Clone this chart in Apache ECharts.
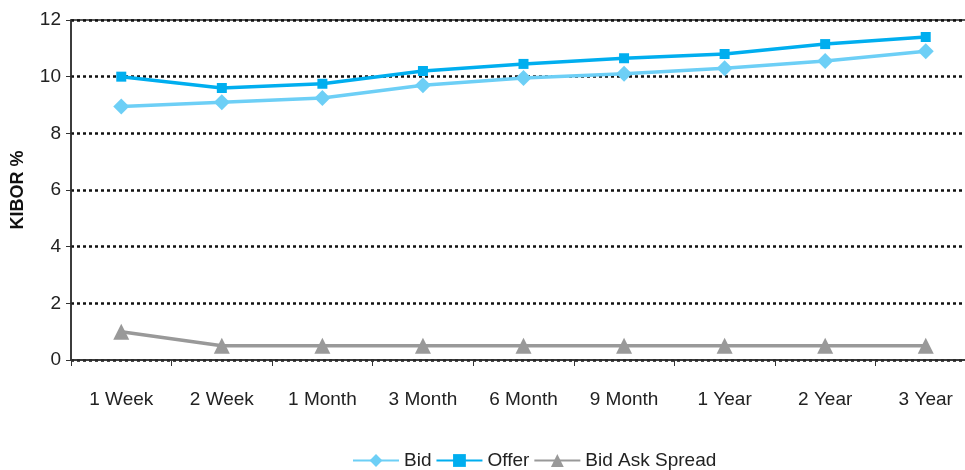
<!DOCTYPE html>
<html>
<head>
<meta charset="utf-8">
<script src="https://cdn.jsdelivr.net/npm/echarts@6/dist/echarts.min.js"></script>
<style>
  html, body { margin: 0; padding: 0; background: #fff; }
  #chart { width: 965px; height: 470px; }
</style>
</head>
<body>
<div id="chart"></div>
<script>
const tenors = ['1 Week', '2 Week', '1 Month', '3 Month', '6 Month', '9 Month', '1 Year', '2 Year', '3 Year'];
const bid = [8.95, 9.1, 9.25, 9.7, 9.95, 10.1, 10.3, 10.55, 10.9];
const offer = [10.0, 9.6, 9.75, 10.2, 10.45, 10.65, 10.8, 11.15, 11.4];
const spread = [1.0, 0.5, 0.5, 0.5, 0.5, 0.5, 0.5, 0.5, 0.5];

const font = '"Liberation Sans", Arial, sans-serif';

const chart = echarts.init(document.getElementById('chart'), null, { renderer: 'canvas' });

function line(name, data, color, symbol, size) {
  return {
    name: name,
    type: 'line',
    data: data,
    symbol: symbol,
    symbolSize: size,
    lineStyle: { color: color, width: 3.5 },
    itemStyle: { color: color },
    animation: false
  };
}

chart.setOption({
  animation: false,
  textStyle: { fontFamily: font },
  grid: {
    left: 71, top: 20, width: 905, height: 340,
    outerBoundsMode: 'none',
    containLabel: false,
    show: true, borderColor: '#222', borderWidth: 1.5
  },
  legend: {
    top: 446,
    left: 347,
    itemWidth: 46,
    itemHeight: 16,
    itemGap: 4,
    textStyle: { fontSize: 19, color: '#222', fontFamily: font },
    data: ['Bid', 'Offer', 'Bid Ask Spread']
  },
  xAxis: {
    type: 'category',
    data: tenors,
    boundaryGap: true,
    offset: 2,
    axisLine: { lineStyle: { color: '#333', width: 1.5 } },
    axisTick: { show: true, length: 6, lineStyle: { color: '#333' } },
    axisLabel: { fontSize: 19, color: '#222', margin: 28, fontFamily: font },
    splitLine: { show: false }
  },
  yAxis: {
    type: 'value',
    min: 0,
    max: 12,
    interval: 2,
    name: 'KIBOR %',
    nameLocation: 'middle',
    nameGap: 44,
    nameTextStyle: { fontSize: 18, fontWeight: 'bold', color: '#111', fontFamily: font },
    axisLine: { show: true, lineStyle: { color: '#333', width: 1.5 } },
    axisTick: { show: true, length: 5, lineStyle: { color: '#333' } },
    axisLabel: { fontSize: 19, color: '#222', margin: 10, fontFamily: font },
    splitLine: { show: true, lineStyle: { color: '#111', width: 2.5, type: [3, 3] } }
  },
  series: [
    line('Bid', bid, '#6dcff6', 'diamond', 16),
    line('Offer', offer, '#00aeef', 'rect', 10),
    line('Bid Ask Spread', spread, '#999999', 'triangle', 16)
  ]
});
</script>
</body>
</html>
